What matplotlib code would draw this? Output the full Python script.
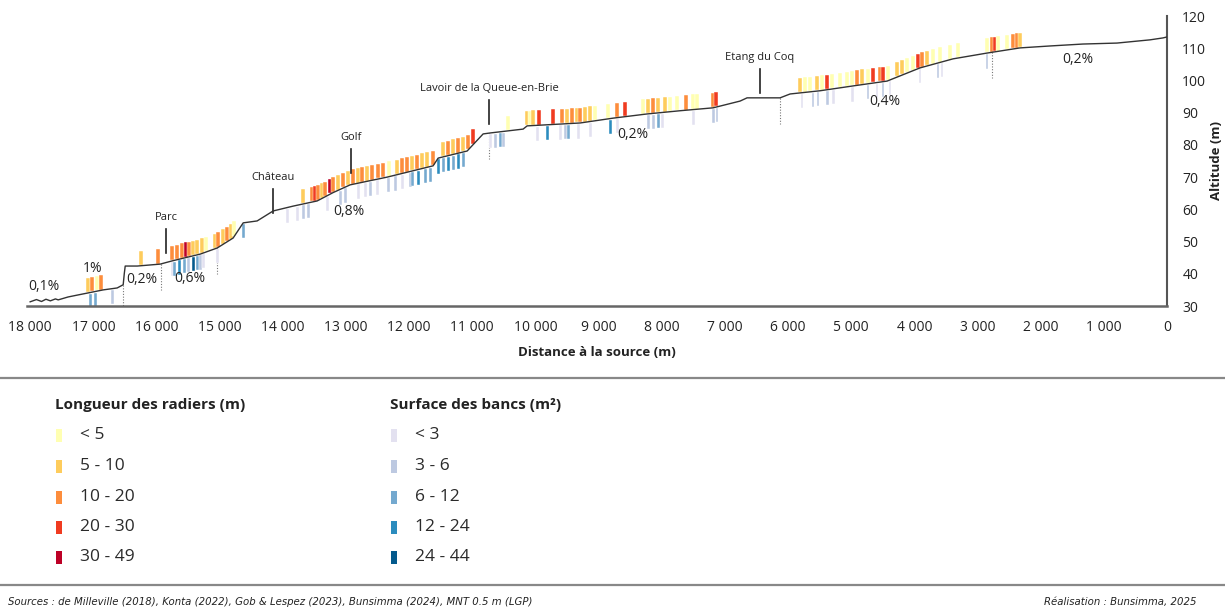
import numpy as np
import matplotlib
matplotlib.use("Agg")
import matplotlib.pyplot as plt
from matplotlib.patches import Rectangle

plt.rcParams["font.family"] = ["Open Sans", "DejaVu Sans"]

# =========================================================
# Data
# =========================================================

# longitudinal profile (distance to source in m, altitude in m)
prof_dist = [18000, 17900, 17820, 17750, 17680, 17600, 17556, 17400, 17250,
             17097, 16843, 16622, 16527, 16510, 16495, 16305, 15941, 15751,
             15308, 15039, 14786, 14627, 14406, 14152, 13836, 13456, 13203,
             12933, 12347, 11620, 11540, 11081, 10828, 10717, 10195, 10131,
             9292, 8770, 8232, 7709, 7187, 6759, 6649, 6126, 5968, 5493,
             4971, 4432, 3910, 3388, 2849, 2327, 1852, 1330, 792, 269, 63, 0]
prof_alt = [31.3, 32.0, 31.4, 32.1, 31.6, 32.2, 31.9, 32.8, 33.4,
            34.0, 35.0, 35.6, 36.6, 40.0, 42.4, 42.4, 43.0, 44.0,
            46.1, 48.0, 51.1, 55.8, 56.4, 59.5, 61.0, 62.6, 65.2,
            67.6, 70.0, 73.5, 75.9, 78.1, 83.4, 83.7, 84.9, 85.9,
            86.8, 88.3, 89.6, 90.6, 91.5, 93.6, 94.6, 94.6, 95.8, 96.8,
            98.3, 99.8, 103.9, 106.7, 108.5, 110.1, 110.7, 111.3, 111.6, 112.6, 113.2, 113.5]

# riffles: position (m) and length class
riffle_dist = [17081, 17017, 16938, 16875, 16242, 15972, 15751, 15672, 15593,
               15529, 15482, 15419, 15355, 15276, 15213, 15070, 15023, 14944,
               14880, 14817, 14769, 13677, 13535, 13487, 13440, 13376, 13329,
               13250, 13202, 13123, 13044, 12965, 12886, 12806, 12743, 12664,
               12585, 12490, 12411, 12316, 12189, 12110, 12031, 11952, 11873,
               11793, 11714, 11619, 11461, 11382, 11303, 11223, 11144, 11065,
               10986, 10432, 10131, 10084, 10036, 9941, 9720, 9577, 9498, 9419,
               9340, 9292, 9213, 9134, 9055, 8849, 8707, 8580, 8295, 8216, 8137,
               8057, 7947, 7867, 7757, 7614, 7503, 7440, 7187, 7139, 5810, 5730,
               5651, 5541, 5461, 5382, 5303, 5176, 5066, 4986, 4907, 4828, 4733,
               4654, 4543, 4496, 4417, 4274, 4195, 4116, 4021, 3942, 3878, 3799,
               3704, 3593, 3435, 3308, 2849, 2770, 2723, 2675, 2533, 2438, 2375,
               2327]
riffle_cls = [1, 2, 0, 2, 1, 2, 2, 2, 2,
              4, 2, 1, 1, 1, 0, 1, 2, 1,
              2, 1, 0, 1, 2, 3, 2, 1, 2,
              4, 2, 1, 2, 1, 2, 1, 2, 1,
              2, 2, 2, 0, 1, 2, 2, 1, 2,
              1, 1, 2, 1, 2, 1, 2, 1, 2,
              3, 0, 1, 0, 1, 3, 3, 2, 1, 2,
              1, 2, 1, 1, 0, 0, 2, 3, 0, 1, 2,
              1, 1, 0, 0, 2, 0, 0, 2, 3, 1, 0,
              0, 1, 0, 3, 0, 0, 0, 0, 2, 1, 0,
              3, 2, 3, 0, 1, 1, 0, 0, 3, 2, 1,
              0, 0, 0, 0, 0, 2, 3, 0, 0, 2, 2,
              1]

# banks: position (m) and surface class
bank_dist = [17049, 16970, 16701, 15751, 15720, 15640, 15561, 15498, 15419,
             15355, 15308, 15260, 15039, 14627, 13930, 13772, 13677, 13598,
             13297, 13091, 13012, 12806, 12696, 12617, 12506, 12332, 12221,
             12110, 11984, 11952, 11857, 11746, 11667, 11540, 11461, 11382,
             11303, 11223, 11144, 10717, 10638, 10559, 10511, 9973, 9815,
             9609, 9530, 9482, 9324, 9134, 8817, 8707, 8216, 8137, 8057,
             7994, 7503, 7187, 7124, 5778, 5604, 5525, 5382, 5287, 4986,
             4733, 4591, 4496, 4385, 3910, 3625, 3562, 2849]
bank_cls = [2, 2, 1, 0, 2, 3, 2, 1, 4,
            2, 1, 0, 0, 2, 0, 0, 1, 1,
            0, 1, 1, 0, 0, 1, 0, 1, 1,
            0, 1, 2, 3, 2, 2, 3, 2, 3,
            2, 3, 2, 0, 1, 2, 1, 0, 3,
            0, 1, 2, 0, 0, 3, 0, 1, 1, 2,
            0, 0, 1, 1, 0, 1, 1, 1, 0, 0,
            1, 0, 1, 0, 0, 1, 0, 1]

riffle_labels = ["< 5", "5 - 10", "10 - 20", "20 - 30", "30 - 49"]
bank_labels = ["< 3", "3 - 6", "6 - 12", "12 - 24", "24 - 44"]
riffle_colors = ["#ffffb2", "#fecc5c", "#fd8d3c", "#f03b20", "#bd0026"]
bank_colors = ["#e3e1f0", "#bdc9e1", "#74a9cf", "#2b8cbe", "#045a8d"]

# slope segments
slope_text = ["0,1%", "1%", "0,2%", "0,6%", "0,8%", "0,2%", "0,4%", "0,2%"]
slope_dist = [17778, 17017, 16226, 15466, 12949, 8453, 4464, 1409]
slope_alt = [36.2, 41.5, 38.1, 38.4, 59.2, 83.1, 93.6, 106.4]
break_dist = [16527, 15925, 15039, 10733, 6126, 2770]

# places
place_names = ["Parc", "Château", "Golf", "Lavoir de la Queue-en-Brie", "Etang du Coq"]
place_dist = [15846, 14152, 12918, 10733, 6443]
place_low = [46.4, 58.9, 71.3, 86.5, 96.1]

dist_ticks = list(range(0, 18001, 1000))
alt_ticks = list(range(30, 121, 10))


def alt_at(d):
    return np.interp(d, prof_dist[::-1], prof_alt[::-1])


# =========================================================
# Figure
# =========================================================

fig = plt.figure(figsize=(12.25, 6.1), dpi=100)

# background axes in pixel units for legend / frame
lax = fig.add_axes([0, 0, 1, 1])
lax.set_xlim(0, 1225)
lax.set_ylim(610, 0)
lax.axis("off")

ax = fig.add_axes([27 / 1225, 1 - 306 / 610, 1140 / 1225, 290 / 610])
ax.patch.set_alpha(0)

# riffles above profile
rd = np.array(riffle_dist)
ax.bar(rd, 4.5, bottom=alt_at(rd) + 0.2, width=62,
       color=[riffle_colors[c] for c in riffle_cls],
       edgecolor="white", linewidth=0.3, zorder=2)

# banks below profile
bd = np.array(bank_dist)
ax.bar(bd, -4.4, bottom=alt_at(bd) - 0.4, width=45,
       color=[bank_colors[c] for c in bank_cls],
       edgecolor="white", linewidth=0.3, zorder=2)

# profile line
ax.plot(prof_dist, prof_alt, color="#333333", linewidth=1.0, zorder=3)

# slope breaks
for d in break_dist:
    a = alt_at(d)
    ax.plot([d, d], [a, a - 8], color="#777777", linestyle=(0, (1, 1.5)),
            linewidth=0.8, zorder=1)

for s, d, a in zip(slope_text, slope_dist, slope_alt):
    ax.text(d, a, s, ha="center", va="center", fontsize=10, color="#222222")

# places
for name, d, lo in zip(place_names, place_dist, place_low):
    ax.plot([d, d], [lo, lo + 7.4], color="#222222", linewidth=1.2)
    ax.text(d, lo + 11, name, ha="center", va="center", fontsize=8,
            color="#222222")

ax.set_xlim(18050, 0)
ax.set_ylim(30, 120)
ax.set_xticks(dist_ticks)
ax.set_xticklabels([f"{v:,}".replace(",", " ") for v in dist_ticks], fontsize=10,
                   color="#222222")
ax.set_yticks(alt_ticks)
ax.set_yticklabels([str(v) for v in alt_ticks], fontsize=10, color="#222222")
ax.yaxis.tick_right()
ax.yaxis.set_label_position("right")
ax.tick_params(axis="both", length=0)
ax.tick_params(axis="x", pad=10)
ax.tick_params(axis="y", pad=11)

for side in ["top", "left"]:
    ax.spines[side].set_visible(False)
ax.spines["bottom"].set_color("#666666")
ax.spines["bottom"].set_linewidth(1.8)
ax.spines["right"].set_color("#555555")
ax.spines["right"].set_linewidth(1.5)

ax.set_xlabel("Distance à la source (m)", fontsize=9.5, fontweight="bold",
              labelpad=8, color="#222222")
ax.set_ylabel("Altitude (m)", fontsize=9.5, fontweight="bold", labelpad=3,
              color="#222222")

# =========================================================
# Legend block
# =========================================================

lax.plot([0, 1225], [378, 378], color="#888888", linewidth=1.6)
lax.plot([0, 1225], [585, 585], color="#888888", linewidth=1.6)

row_y = [435, 466, 497, 527, 557]

lax.text(55, 405, "Longueur des radiers (m)", fontsize=11, fontweight="bold",
         va="center", ha="left", color="#222222")
for y, lab, col in zip(row_y, riffle_labels, riffle_colors):
    lax.add_patch(Rectangle((56, y - 6.5), 5.5, 13, facecolor=col,
                            edgecolor="none"))
    lax.text(80, y, lab, fontsize=12.5, va="center", ha="left", color="#2a2a2a")

lax.text(390, 405, "Surface des bancs (m\u00b2)", fontsize=11, fontweight="bold",
         va="center", ha="left", color="#222222")
for y, lab, col in zip(row_y, bank_labels, bank_colors):
    lax.add_patch(Rectangle((391, y - 6.5), 5.5, 13, facecolor=col,
                            edgecolor="none"))
    lax.text(415, y, lab, fontsize=12.5, va="center", ha="left", color="#2a2a2a")

lax.text(8, 602, "Sources : de Milleville (2018), Konta (2022), Gob & Lespez (2023), "
         "Bunsimma (2024), MNT 0.5 m (LGP)", fontsize=7.3, style="italic",
         family="Liberation Sans Narrow", va="center", ha="left", color="#222222")
lax.text(1197, 602, "Réalisation : Bunsimma, 2025", fontsize=7.3, style="italic",
         family="Liberation Sans Narrow", va="center", ha="right", color="#222222")

fig.savefig("out.png", dpi=100)
